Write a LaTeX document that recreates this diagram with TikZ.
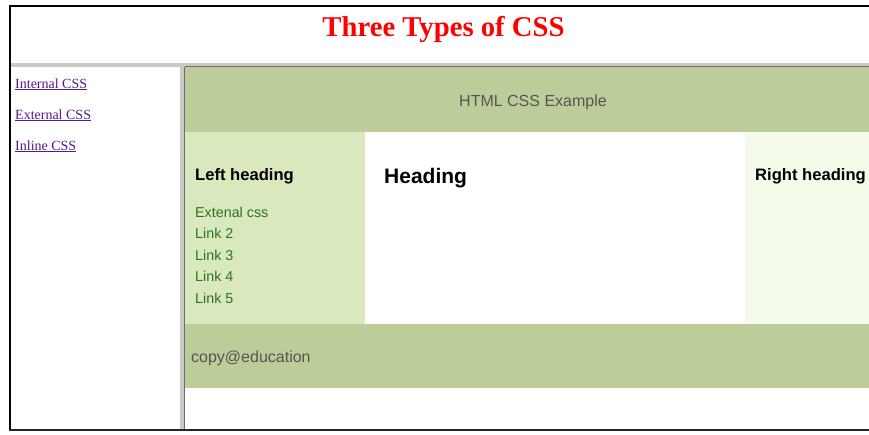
\documentclass[tikz,border=0pt]{standalone}
\usepackage{fontspec}
\setmainfont{Liberation Serif}
\setsansfont{Liberation Sans}
\definecolor{hdrgreen}{RGB}{188,205,153}
\definecolor{leftgreen}{RGB}{217,232,189}
\definecolor{rightgreen}{RGB}{245,251,234}
\definecolor{linkgreen}{RGB}{40,118,28}
\definecolor{visited}{RGB}{85,26,139}
\definecolor{framegray}{RGB}{200,200,200}
\definecolor{framedark}{RGB}{110,110,110}
\definecolor{bandtext}{RGB}{85,85,85}
\tikzset{
  navlink/.style={anchor=base west, inner sep=0pt, text=visited, font=\fontsize{14}{16}\selectfont},
  sidelink/.style={anchor=base west, inner sep=0pt, text=linkgreen, font=\sffamily\fontsize{14.3}{16}\selectfont},
  colhead/.style={anchor=base west, inner sep=0pt, font=\sffamily\bfseries\fontsize{16.6}{18}\selectfont},
  bandlabel/.style={inner sep=0pt, text=bandtext, font=\sffamily\fontsize{16}{18}\selectfont},
}
\begin{document}
\begin{tikzpicture}[x=1pt,y=-1pt]
\useasboundingbox (0,0) rectangle (869,434);
\fill[white] (0,0) rectangle (869,434);

% right-hand frame: page bands
\fill[hdrgreen] (185,67) rectangle (869,132);
\fill[leftgreen] (185,132) rectangle (365,324);
\fill[rightgreen] (745,132) rectangle (869,324);
\fill[hdrgreen] (185,324) rectangle (869,388);

% frame separators
\fill[framegray] (10,62.5) rectangle (869,66.5);
\draw[framedark, line width=1pt] (185,66.5) -- (869,66.5);
\fill[framegray] (180,66.5) rectangle (184,429);
\draw[framedark, line width=1.2pt] (184.6,66.5) -- (184.6,429);

% outer border
\draw[black, line width=2pt] (9,5.5) -- (869,5.5);
\draw[black, line width=2pt] (9.5,5) -- (9.5,431);
\draw[black!85, line width=2.5pt] (9,430) -- (869,430);

% title
\node[anchor=base, inner sep=0pt, text=red, font=\bfseries\fontsize{28.7}{32}\selectfont] (title) at (443.5,36) {Three Types of CSS};

% navigation frame
\node[navlink] (nav1) at (15,88) {\underline{Internal CSS}};
\node[navlink] (nav2) at (15,119) {\underline{External CSS}};
\node[navlink] (nav3) at (15,150) {\underline{Inline CSS}};

% page content
\node[bandlabel, anchor=base] (pagehead) at (533,106) {HTML CSS Example};
\node[colhead] (lefthead) at (195,180) {Left heading};
\node[anchor=base west, inner sep=0pt, font=\sffamily\bfseries\fontsize{21}{24}\selectfont] (mainhead) at (384,183) {Heading};
\node[colhead] (righthead) at (755,180) {Right heading};

\node[sidelink] (l1) at (195,217) {Extenal css};
\node[sidelink] (l2) at (195,238.5) {Link 2};
\node[sidelink] (l3) at (195,260) {Link 3};
\node[sidelink] (l4) at (195,281.5) {Link 4};
\node[sidelink] (l5) at (195,303) {Link 5};

\node[bandlabel, anchor=base west] (footer) at (191,362) {copy@education};
\end{tikzpicture}
\end{document}
